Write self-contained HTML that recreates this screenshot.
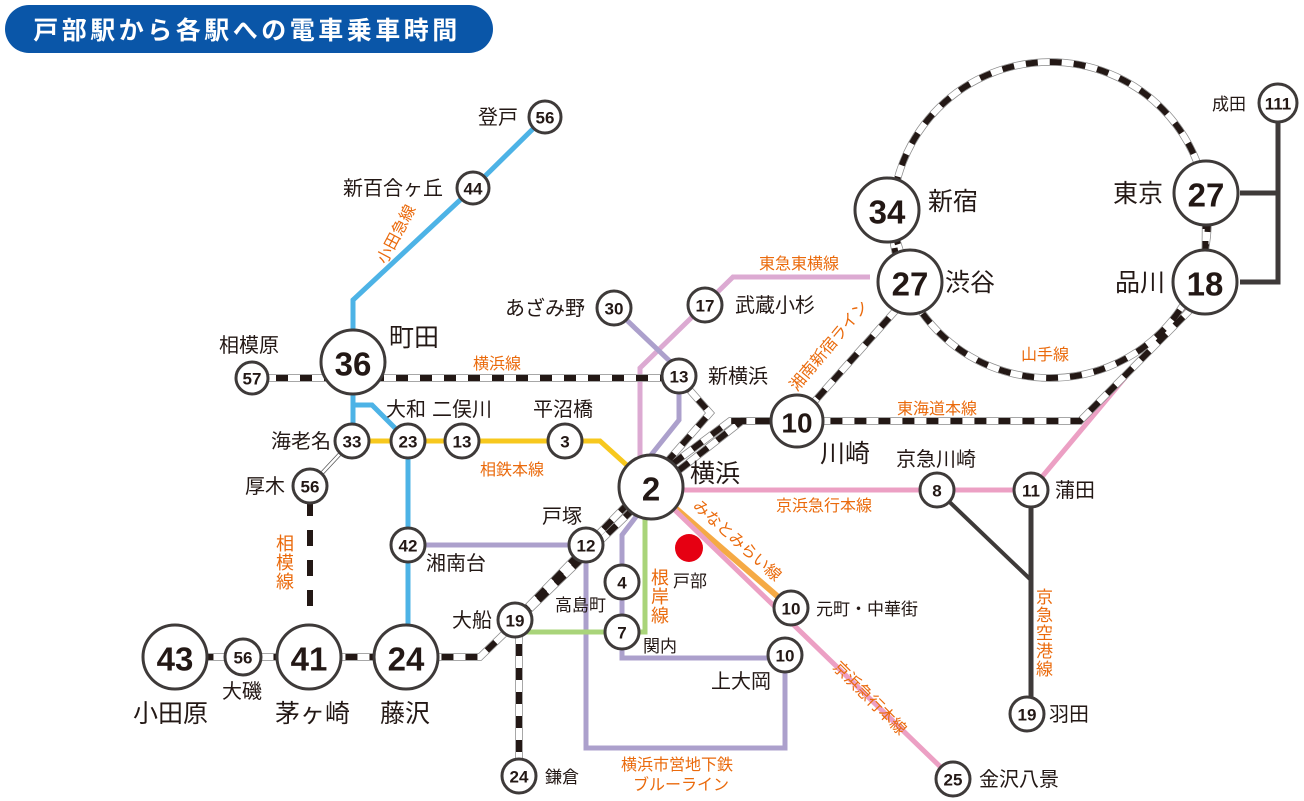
<!DOCTYPE html>
<html><head><meta charset="utf-8"><style>
html,body{margin:0;padding:0;background:#fff}
svg{display:block}
text{font-family:"Liberation Sans","Noto Sans CJK JP",sans-serif}
.n{font-weight:bold;fill:#231815;text-anchor:middle;dominant-baseline:central}
.l{fill:#231815;font-size:20px}
.L{fill:#231815;font-size:25px}
.o{fill:#ea6a0c;font-size:16px}
</style></head><body>
<svg width="1304" height="801" viewBox="0 0 1304 801">
<rect x="5" y="5" width="488" height="48" rx="24" fill="#0a56a8"/>
<text x="247" y="39" fill="#fff" font-size="25" font-weight="bold" text-anchor="middle" letter-spacing="3.5">戸部駅から各駅への電車乗車時間</text>

<g fill="none" stroke-linejoin="miter">
<polyline points="545,117 473,188 353,300 353,441" stroke="#4db3e6" stroke-width="5"/>
<polyline points="353,405 372,405 408,441 408,657" stroke="#4db3e6" stroke-width="5"/>
<polyline points="352,441 600,441 651,487" stroke="#f7c81e" stroke-width="5"/>
<polyline points="870,277 733,277 640,368 640,470" stroke="#dcaad2" stroke-width="5"/>
<polyline points="614,308 679,370 679,420 651,455" stroke="#aca0cc" stroke-width="5"/>
<polyline points="645,505 622,535 622,658 785,658 785,748 586,748 586,545 408,545" stroke="#aca0cc" stroke-width="5"/>
<polyline points="645,512 645,632 519,632" stroke="#a9d47a" stroke-width="5"/>
<polyline points="651,487 791,608" stroke="#f5aa45" stroke-width="6"/>
<polyline points="651,490 1031,490 1205,282" stroke="#eca0c4" stroke-width="5"/>
<polyline points="651,487 953,779" stroke="#eca0c4" stroke-width="5"/>
<polyline points="937,490 1031,580" stroke="#3e3a39" stroke-width="4"/>
<polyline points="1031,490 1031,714" stroke="#3e3a39" stroke-width="5"/>
<polyline points="1278,103 1278,282 1240,282" stroke="#3e3a39" stroke-width="5"/>
<polyline points="1240,193 1278,193" stroke="#3e3a39" stroke-width="5"/>
<polyline points="310,500 310,612" stroke="#231815" stroke-width="6" stroke-dasharray="16 14"/>
<line x1="352" y1="441" x2="310" y2="486" stroke="#555" stroke-width="4"/>
<line x1="352" y1="441" x2="310" y2="486" stroke="#fff" stroke-width="2.5"/>
</g>

<g fill="none">
<g stroke="#8a8a8a" stroke-width="7.5">
<circle cx="1050" cy="220" r="158"/>
<polyline points="252,378 679,378 710,413 651,480"/>
<polyline points="1200,300 1080,421 742,421 651,492 480,657 175,657"/>
<polyline points="905,300 797,421 730,421 651,480 515,620"/>
<polyline points="519,620 519,776"/>
<line x1="887" y1="210" x2="910" y2="282"/><line x1="1206" y1="193" x2="1205" y2="282"/>
</g>
<g stroke="#fff" stroke-width="6">
<circle cx="1050" cy="220" r="158"/>
<polyline points="252,378 679,378 710,413 651,480"/>
<polyline points="1200,300 1080,421 742,421 651,492 480,657 175,657"/>
<polyline points="905,300 797,421 730,421 651,480 515,620"/>
<polyline points="519,620 519,776"/>
<line x1="887" y1="210" x2="910" y2="282"/><line x1="1206" y1="193" x2="1205" y2="282"/>
</g>
<g stroke="#231815" stroke-width="6" stroke-dasharray="12 12">
<circle cx="1050" cy="220" r="158"/>
<polyline points="252,378 679,378 710,413 651,480"/>
<polyline points="1200,300 1080,421 742,421 651,492 480,657 175,657"/>
<polyline points="905,300 797,421 730,421 651,480 515,620"/>
<polyline points="519,620 519,776"/>
<line x1="887" y1="210" x2="910" y2="282"/><line x1="1206" y1="193" x2="1205" y2="282"/>
</g>
</g>

<g fill="#fff" stroke="#3e3a39" stroke-width="3">
<circle cx="545" cy="117" r="16"/><circle cx="473" cy="188" r="16"/>
<circle cx="353" cy="362" r="32"/><circle cx="252" cy="378" r="16"/>
<circle cx="352" cy="441" r="17"/><circle cx="408" cy="441" r="17"/>
<circle cx="462" cy="441" r="17"/><circle cx="565" cy="441" r="17"/>
<circle cx="310" cy="486" r="17"/><circle cx="408" cy="545" r="17"/>
<circle cx="586" cy="545" r="17"/><circle cx="515" cy="620" r="17"/>
<circle cx="175" cy="657" r="32"/><circle cx="243" cy="657" r="18"/>
<circle cx="309" cy="657" r="32"/><circle cx="406" cy="657" r="32"/>
<circle cx="519" cy="776" r="17"/><circle cx="651" cy="487" r="32"/>
<circle cx="622" cy="582" r="17"/><circle cx="622" cy="632" r="17"/>
<circle cx="791" cy="608" r="17"/><circle cx="785" cy="655" r="17"/>
<circle cx="953" cy="779" r="17"/><circle cx="937" cy="490" r="17"/>
<circle cx="1031" cy="490" r="17"/><circle cx="1027" cy="714" r="17"/>
<circle cx="797" cy="421" r="26"/><circle cx="679" cy="376" r="17"/>
<circle cx="614" cy="308" r="17"/><circle cx="705" cy="305" r="17"/>
<circle cx="910" cy="282" r="32"/><circle cx="887" cy="210" r="32"/>
<circle cx="1206" cy="193" r="32"/><circle cx="1205" cy="282" r="32"/>
<circle cx="1278" cy="103" r="19"/>
</g>
<circle cx="689" cy="548" r="14" fill="#e60012"/>

<g class="n" font-size="17">
<text x="545" y="118">56</text><text x="473" y="189">44</text><text x="252" y="379">57</text>
<text x="352" y="442">33</text><text x="408" y="442">23</text><text x="462" y="442">13</text>
<text x="565" y="442">3</text><text x="310" y="487">56</text><text x="408" y="546">42</text>
<text x="586" y="546">12</text><text x="515" y="621">19</text><text x="243" y="658">56</text>
<text x="519" y="777">24</text><text x="622" y="583">4</text><text x="622" y="633">7</text>
<text x="791" y="609">10</text><text x="785" y="656">10</text><text x="953" y="780">25</text>
<text x="937" y="491">8</text><text x="1031" y="491">11</text><text x="1027" y="715">19</text>
<text x="679" y="377">13</text><text x="614" y="309">30</text><text x="705" y="306">17</text>
<text x="1278" y="104">111</text>
</g>
<g class="n" font-size="33">
<text x="353" y="364">36</text><text x="175" y="659">43</text><text x="309" y="659">41</text>
<text x="406" y="659">24</text><text x="651" y="489">2</text><text x="910" y="284">27</text>
<text x="887" y="212">34</text><text x="1206" y="195">27</text><text x="1205" y="284">18</text>
<text x="797" y="423" font-size="28">10</text>
</g>

<g class="l">
<text x="478" y="124">登戸</text><text x="343" y="195">新百合ヶ丘</text>
<text x="219" y="352">相模原</text><text x="271" y="448">海老名</text>
<text x="386" y="416">大和</text><text x="432" y="416">二俣川</text><text x="533" y="416">平沼橋</text>
<text x="245" y="493">厚木</text><text x="426" y="570">湘南台</text>
<text x="542" y="523">戸塚</text><text x="452" y="627">大船</text><text x="555" y="611" font-size="17">高島町</text>
<text x="222" y="698">大磯</text><text x="545" y="783" font-size="17">鎌倉</text>
<text x="673" y="587" font-size="17">戸部</text><text x="643" y="652" font-size="17">関内</text>
<text x="816" y="615" font-size="17">元町・中華街</text><text x="711" y="688">上大岡</text>
<text x="979" y="786">金沢八景</text><text x="896" y="466">京急川崎</text>
<text x="1055" y="497">蒲田</text><text x="1049" y="721">羽田</text>
<text x="708" y="383">新横浜</text><text x="505" y="315">あざみ野</text><text x="735" y="312">武蔵小杉</text>
<text x="1212" y="110" font-size="17">成田</text>
</g>
<g class="L">
<text x="389" y="346">町田</text><text x="133" y="722">小田原</text><text x="275" y="722">茅ヶ崎</text>
<text x="380" y="722">藤沢</text><text x="690" y="482">横浜</text><text x="820" y="462">川崎</text>
<text x="945" y="291">渋谷</text><text x="928" y="210">新宿</text><text x="1113" y="202">東京</text>
<text x="1115" y="291">品川</text>
</g>
<g class="o">
<text x="473" y="369">横浜線</text><text x="480" y="475">相鉄本線</text>
<text x="759" y="269">東急東横線</text><text x="1021" y="360">山手線</text><text x="897" y="414">東海道本線</text>
<text x="776" y="511">京浜急行本線</text>
<text x="621" y="770">横浜市営地下鉄</text><text x="633" y="790">ブルーライン</text>
<text transform="translate(386,265) rotate(-62)">小田急線</text>
<text transform="translate(797,392) rotate(-50)">湘南新宿ライン</text>
<text transform="translate(692,507) rotate(42)">みなとみらい線</text>
<text transform="translate(832,668) rotate(45)">京浜急行本線</text>
<text x="276" y="550" font-size="18">相</text><text x="276" y="569" font-size="18">模</text><text x="276" y="588" font-size="18">線</text>
<text x="651" y="584" font-size="18">根</text><text x="651" y="603" font-size="18">岸</text><text x="651" y="622" font-size="18">線</text>
<text x="1036" y="603" font-size="17">京</text><text x="1036" y="621" font-size="17">急</text><text x="1036" y="639" font-size="17">空</text><text x="1036" y="657" font-size="17">港</text><text x="1036" y="675" font-size="17">線</text>
</g>
</svg>
</body></html>
